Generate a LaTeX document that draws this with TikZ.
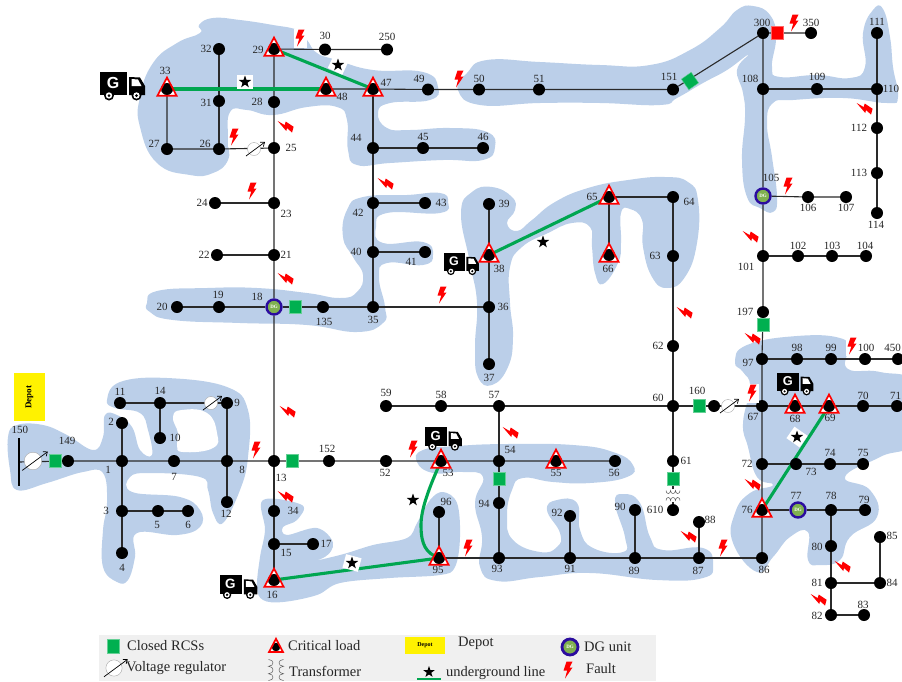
\documentclass[tikz,border=0pt]{standalone}
\usepackage{fontspec}
\setmainfont{Liberation Serif}
\setsansfont{Liberation Sans}
\usepackage{tikz}
\usetikzlibrary{positioning,arrows.meta,shapes.geometric}
\usepackage{xcolor}
\definecolor{zoneBlue}{HTML}{BBCFE9}
\definecolor{rcsGreen}{HTML}{00B050}
\definecolor{ugGreen}{HTML}{00A650}
\definecolor{dgRing}{HTML}{2B0C9E}
\definecolor{dgFill}{HTML}{7FB04F}
\definecolor{legendGray}{HTML}{F0F0F0}
\definecolor{wireGray}{HTML}{2A2A2A}
\pgfdeclarelayer{zoneLayer}
\pgfdeclarelayer{wireLayer}
\pgfsetlayers{zoneLayer,wireLayer,main}

\begin{document}
\begin{tikzpicture}[
    x=1pt, y=-1pt,
    busNode/.style={circle, fill=black, minimum size=12, inner sep=0},
    critBus/.style={circle, minimum size=12, inner sep=0},
    numLabel/.style={font=\fontsize{11}{11}\selectfont, text=black!85, inner sep=0},
    rcsBox/.style={rectangle, fill=rcsGreen, draw=rcsGreen!60!white, line width=.4, minimum width=12, minimum height=13, inner sep=0},
    dgBus/.style={circle, fill=dgFill, draw=dgRing, line width=2.4, minimum size=15, inner sep=0, text=white, font=\fontsize{5}{5}\selectfont\bfseries},
    zoneFill/.style={fill=zoneBlue},
    feederLine/.style={draw=wireGray, line width=1.1},
    ugLine/.style={draw=ugGreen, line width=3.1},
    starMark/.style={star, star points=5, star point ratio=2.5, fill=black, minimum size=13, inner sep=0},
    starBack/.style={rectangle, fill=white, minimum width=16, minimum height=14, inner sep=0},
    depotBox/.style={rectangle, fill=yellow, inner sep=0, font=\bfseries},
    legendText/.style={anchor=west, inner sep=0, font=\fontsize{14.5}{14.5}\selectfont, text=black!85},
    faultMark/.pic={\fill[red] (-1.5,-8.5) -- (4.5,-8.5) -- (1.5,-2.5) -- (4.5,-2.5) -- (-3,8.5) -- (-.8,.5) -- (-4.5,.5) -- cycle;},
    faultBgMark/.pic={\fill[white] (-6.5,-9.5) rectangle (6.5,9.5);
        \fill[red] (-1.5,-8.5) -- (4.5,-8.5) -- (1.5,-2.5) -- (4.5,-2.5) -- (-3,8.5) -- (-.8,.5) -- (-4.5,.5) -- cycle;},
    critTri/.pic={\fill[white] (-9.6,6.8) -- (0,-11.5) -- (9.6,6.8) -- cycle;
        \fill[black] (0,0) circle[radius=6pt];
        \draw[red, line width=1.7] (-9.6,6.8) -- (0,-11.5) -- (9.6,6.8) -- cycle;},
    voltReg/.pic={\fill[white] (0,0) circle[radius=6.5pt];
        \draw[black!35, line width=.4] (0,0) circle[radius=6.5pt];
        \draw[black, line width=.7, -{Straight Barb[length=3.5pt,width=5.5pt]}] (-8,7) -- (11,-7);},
    xfmrCoil/.pic={\draw[black!65, line width=.5]
        (-7,-5) .. controls (-7,-1) and (-2.5,-1) .. (-2.5,-5) .. controls (-2.5,-1) and (2.5,-1) .. (2.5,-5) .. controls (2.5,-1) and (7,-1) .. (7,-5)
        (-7,5) .. controls (-7,1) and (-2.5,1) .. (-2.5,5) .. controls (-2.5,1) and (2.5,1) .. (2.5,5) .. controls (2.5,1) and (7,1) .. (7,5);},
    genTruck/.pic={\fill[black] (-22,-13) rectangle (5,10);
        \fill[black] (7,-8) -- (18,-7.5) -- (23,1) -- (23,10) -- (7,10) -- cycle;
        \fill[white] (9.5,-6) -- (16,-5.5) -- (19.5,1) -- (9.5,1) -- cycle;
        \fill[black] (-13,10.5) circle[radius=5pt] (14.5,10.5) circle[radius=5pt];
        \fill[white] (-13,10.5) circle[radius=3.2pt] (14.5,10.5) circle[radius=3.2pt];
        \fill[black] (-13,10.5) circle[radius=1.5pt] (14.5,10.5) circle[radius=1.5pt];
        \node[transform shape, text=white, inner sep=0, font=\fontsize{16}{16}\selectfont\sffamily\bfseries] (-g) at (-9,-2.5) {G};}
]
    \useasboundingbox (0,0) rectangle (902,681);

    % restoration zones
    \begin{pgfonlayer}{zoneLayer}
    \fill[zoneFill] plot[smooth cycle, tension=.8] coordinates {(199,25) (213,18) (240,20) (273,25) (297,30) (307,40) (317,53) (337,60) (373,70) (423,72) (438,87) (430,100) (390,103) (378,113) (387,128) (410,130) (450,128) (487,132) (495,147) (483,160) (443,160) (390,163) (357,165) (348,150) (347,120) (337,107) (307,107) (273,115) (247,110) (230,112) (228,140) (228,160) (213,173) (190,175) (157,163) (140,127) (140,97) (153,63) (177,43) (200,33)};
    \fill[zoneFill] plot[smooth cycle, tension=.8] coordinates {(458,90) (467,73) (487,60) (540,62) (600,65) (650,65) (690,50) (720,28) (737,10) (753,6) (770,15) (776,37) (772,67) (780,77) (817,75) (850,78) (865,67) (863,33) (873,10) (883,9) (890,37) (893,67) (898,97) (887,103) (843,98) (793,100) (773,103) (767,123) (772,157) (777,197) (773,212) (760,208) (747,197) (742,160) (745,117) (743,93) (737,70) (748,55) (727,70) (703,83) (677,98) (660,105) (600,103) (540,103) (480,105)};
    \fill[zoneFill] plot[smooth cycle, tension=.8] coordinates {(461,213) (472,192) (492,187) (512,197) (515,210) (507,223) (517,231) (532,220) (555,202) (588,188) (628,180) (665,177) (688,182) (698,200) (697,243) (685,277) (667,288) (652,277) (643,247) (642,220) (630,209) (621,213) (621,243) (618,263) (603,284) (595,273) (592,247) (590,227) (572,223) (548,233) (522,247) (510,267) (510,303) (513,337) (508,367) (492,385) (478,377) (475,347) (477,303) (470,263)};
    \fill[zoneFill] plot[smooth cycle, tension=.8] coordinates {(147,303) (157,291) (207,288) (257,288) (307,293) (340,298) (357,292) (363,275) (353,257) (343,237) (347,210) (363,197) (407,195) (440,193) (448,202) (440,213) (387,213) (376,227) (383,243) (423,242) (433,255) (423,265) (387,263) (379,277) (385,307) (383,323) (357,332) (307,325) (240,323) (173,320) (150,312)};
    \fill[zoneFill] plot[smooth cycle, tension=.7] coordinates {(8,437) (17,425) (43,425) (67,435) (93,450) (103,437) (105,415) (117,415) (132,427) (140,450) (152,455) (148,430) (140,413) (115,408) (107,400) (120,382) (167,378) (227,387) (248,410) (248,457) (240,490) (223,523) (213,513) (208,490) (200,477) (150,473) (130,477) (132,492) (180,497) (200,510) (200,527) (177,535) (137,533) (135,557) (128,580) (117,582) (103,567) (103,530) (107,503) (103,473) (83,472) (47,483) (17,490) (10,470)};
    \fill[white] plot[smooth cycle, tension=.8] coordinates {(173,417) (182,410) (207,413) (217,433) (213,448) (183,452) (177,445) (178,433)};
    \fill[zoneFill] plot[smooth cycle, tension=.6] coordinates {(263,500) (302,505) (297,520) (283,527) (287,535) (317,528) (333,543) (323,558) (288,567) (340,555) (373,545) (407,538) (417,523) (430,500) (443,492) (457,503) (460,537) (455,567) (440,575) (390,578) (340,583) (317,595) (283,602) (263,600) (257,587) (260,557) (265,530)};
    \fill[zoneFill] plot[smooth cycle, tension=.8] coordinates {(417,462) (423,450) (457,446) (507,444) (573,445) (613,452) (633,465) (627,477) (590,483) (553,482) (523,478) (512,490) (507,517) (513,540) (540,552) (557,547) (560,533) (547,510) (557,500) (577,503) (580,530) (593,548) (623,552) (625,537) (615,503) (623,494) (640,503) (650,537) (663,550) (703,548) (713,565) (703,578) (657,580) (590,573) (540,577) (497,581) (480,567) (482,537) (475,503) (483,477) (463,472) (433,473)};
    \fill[zoneFill] plot[smooth cycle, tension=.8] coordinates {(735,362) (747,345) (797,336) (840,338) (847,350) (848,369) (880,372) (915,385) (915,440) (880,457) (845,477) (870,490) (877,517) (850,537) (840,560) (820,565) (808,560) (808,532) (790,537) (773,557) (757,572) (733,543) (735,513) (750,493) (773,485) (757,477) (748,447) (743,423) (750,387) (743,372)};
    \end{pgfonlayer}

    % buses
    \node[busNode] (b1) at (122,461) {};   \node[numLabel] (l1) at (108,470) {1};
    \node[busNode] (b2) at (122,423) {};   \node[numLabel] (l2) at (111,422) {2};
    \node[busNode] (b3) at (122,511) {};   \node[numLabel] (l3) at (106,511) {3};
    \node[busNode] (b4) at (122,553) {};   \node[numLabel] (l4) at (122,568) {4};
    \node[busNode] (b5) at (158,511) {};   \node[numLabel] (l5) at (157,525) {5};
    \node[busNode] (b6) at (188,511) {};   \node[numLabel] (l6) at (188,525) {6};
    \node[busNode] (b7) at (174,461) {};   \node[numLabel] (l7) at (174,477) {7};
    \node[busNode] (b8) at (227,461) {};   \node[numLabel] (l8) at (242,470) {8};
    \node[busNode] (b9) at (227,403) {};   \node[numLabel] (l9) at (237,403) {9};
    \node[busNode] (b10) at (160,438) {};  \node[numLabel] (l10) at (175,438) {10};
    \node[busNode] (b11) at (120,403) {};  \node[numLabel] (l11) at (120,392) {11};
    \node[busNode] (b12) at (227,502) {};  \node[numLabel] (l12) at (226,514) {12};
    \node[busNode] (b13) at (274,461) {};  \node[numLabel] (l13) at (281,478) {13};
    \node[busNode] (b14) at (160,403) {};  \node[numLabel] (l14) at (160,391) {14};
    \node[busNode] (b15) at (274,544) {};  \node[numLabel] (l15) at (286,553) {15};
    \node[critBus] (b16) at (274,580) {};  \node[numLabel] (l16) at (272,595) {16};
    \node[busNode] (b17) at (313,544) {};  \node[numLabel] (l17) at (326,544) {17};
    \node[dgBus] (b18) at (274,307) {DG};  \node[numLabel] (l18) at (257,297) {18};
    \node[busNode] (b19) at (219,307) {};  \node[numLabel] (l19) at (218,295) {19};
    \node[busNode] (b20) at (177,307) {};  \node[numLabel] (l20) at (162,307) {20};
    \node[busNode] (b21) at (274,255) {};  \node[numLabel] (l21) at (286,255) {21};
    \node[busNode] (b22) at (217,255) {};  \node[numLabel] (l22) at (204,255) {22};
    \node[busNode] (b23) at (274,203) {};  \node[numLabel] (l23) at (286,214) {23};
    \node[busNode] (b24) at (215,203) {};  \node[numLabel] (l24) at (202,203) {24};
    \node[busNode] (b25) at (274,148) {};  \node[numLabel] (l25) at (291,148) {25};
    \node[busNode] (b26) at (219,149) {};  \node[numLabel] (l26) at (205,144) {26};
    \node[busNode] (b27) at (167,149) {};  \node[numLabel] (l27) at (154,144) {27};
    \node[busNode] (b28) at (274,102) {};  \node[numLabel] (l28) at (257,102) {28};
    \node[critBus] (b29) at (274,49) {};   \node[numLabel] (l29) at (258,50) {29};
    \node[busNode] (b30) at (325,49.5) {}; \node[numLabel] (l30) at (325,36) {30};
    \node[busNode] (b31) at (219,101) {};  \node[numLabel] (l31) at (206,103) {31};
    \node[busNode] (b32) at (219,49) {};   \node[numLabel] (l32) at (206,49) {32};
    \node[critBus] (b33) at (167,89) {};   \node[numLabel] (l33) at (165,71) {33};
    \node[busNode] (b34) at (274,511) {};  \node[numLabel] (l34) at (293,511) {34};
    \node[busNode] (b35) at (373,307) {};  \node[numLabel] (l35) at (373,320) {35};
    \node[busNode] (b36) at (489,307) {};  \node[numLabel] (l36) at (503,307) {36};
    \node[busNode] (b37) at (489,364) {};  \node[numLabel] (l37) at (489,378) {37};
    \node[critBus] (b38) at (489,255) {};  \node[numLabel] (l38) at (499,269) {38};
    \node[busNode] (b39) at (489,204) {};  \node[numLabel] (l39) at (504,204) {39};
    \node[busNode] (b40) at (373,252) {};  \node[numLabel] (l40) at (356,252) {40};
    \node[busNode] (b41) at (425,252) {};  \node[numLabel] (l41) at (411,262) {41};
    \node[busNode] (b42) at (373,203) {};  \node[numLabel] (l42) at (358,213) {42};
    \node[busNode] (b43) at (425,203) {};  \node[numLabel] (l43) at (441,203) {43};
    \node[busNode] (b44) at (373,148) {};  \node[numLabel] (l44) at (356,138) {44};
    \node[busNode] (b45) at (423,148) {};  \node[numLabel] (l45) at (423,137) {45};
    \node[busNode] (b46) at (483,148) {};  \node[numLabel] (l46) at (483,137) {46};
    \node[critBus] (b47) at (373,89) {};   \node[numLabel] (l47) at (386,83) {47};
    \node[critBus] (b48) at (326,89) {};   \node[numLabel] (l48) at (342,97) {48};
    \node[busNode] (b49) at (428,89.5) {}; \node[numLabel] (l49) at (419,79) {49};
    \node[busNode] (b50) at (479,89.5) {}; \node[numLabel] (l50) at (479,79) {50};
    \node[busNode] (b51) at (539,89.5) {}; \node[numLabel] (l51) at (539,79) {51};
    \node[busNode] (b52) at (386,461) {};  \node[numLabel] (l52) at (385,473) {52};
    \node[critBus] (b53) at (441,461) {};  \node[numLabel] (l53) at (448,473) {53};
    \node[busNode] (b54) at (499,461) {};  \node[numLabel] (l54) at (510,450) {54};
    \node[critBus] (b55) at (556,461) {};  \node[numLabel] (l55) at (556,473) {55};
    \node[busNode] (b56) at (615,461) {};  \node[numLabel] (l56) at (614,473) {56};
    \node[busNode] (b57) at (499,406) {};  \node[numLabel] (l57) at (494,395) {57};
    \node[busNode] (b58) at (441,406) {};  \node[numLabel] (l58) at (441,395) {58};
    \node[busNode] (b59) at (386,406) {};  \node[numLabel] (l59) at (386,393) {59};
    \node[busNode] (b60) at (673,406) {};  \node[numLabel] (l60) at (658,398) {60};
    \node[busNode] (b61) at (673,461) {};  \node[numLabel] (l61) at (686,461) {61};
    \node[busNode] (b62) at (673,346) {};  \node[numLabel] (l62) at (658,346) {62};
    \node[busNode] (b63) at (673,256) {};  \node[numLabel] (l63) at (655,256) {63};
    \node[busNode] (b64) at (673,197) {};  \node[numLabel] (l64) at (689,202) {64};
    \node[critBus] (b65) at (609,197) {};  \node[numLabel] (l65) at (592,197) {65};
    \node[critBus] (b66) at (609,255) {};  \node[numLabel] (l66) at (608,269) {66};
    \node[busNode] (b67) at (762,406) {};  \node[numLabel] (l67) at (753,417) {67};
    \node[critBus] (b68) at (795,406) {};  \node[numLabel] (l68) at (795,419) {68};
    \node[critBus] (b69) at (829,406) {};  \node[numLabel] (l69) at (830,418) {69};
    \node[busNode] (b70) at (863,406) {};  \node[numLabel] (l70) at (863,396) {70};
    \node[busNode] (b71) at (897,406) {};  \node[numLabel] (l71) at (895.5,396) {71};
    \node[busNode] (b72) at (762,464) {};  \node[numLabel] (l72) at (747,464) {72};
    \node[busNode] (b73) at (796,464) {};  \node[numLabel] (l73) at (811,472) {73};
    \node[busNode] (b74) at (830,464) {};  \node[numLabel] (l74) at (830,453) {74};
    \node[busNode] (b75) at (863,464) {};  \node[numLabel] (l75) at (863,453) {75};
    \node[critBus] (b76) at (762,510) {};  \node[numLabel] (l76) at (747,510) {76};
    \node[dgBus] (b77) at (798,510) {DG};  \node[numLabel] (l77) at (796,496) {77};
    \node[busNode] (b78) at (831,510) {};  \node[numLabel] (l78) at (831,496) {78};
    \node[busNode] (b79) at (865,510) {};  \node[numLabel] (l79) at (864,500) {79};
    \node[busNode] (b80) at (831,546) {};  \node[numLabel] (l80) at (817,547) {80};
    \node[busNode] (b81) at (831,583) {};  \node[numLabel] (l81) at (817,583) {81};
    \node[busNode] (b82) at (831,615) {};  \node[numLabel] (l82) at (817,616) {82};
    \node[busNode] (b83) at (864,615) {};  \node[numLabel] (l83) at (863,605) {83};
    \node[busNode] (b84) at (880,583) {};  \node[numLabel] (l84) at (892,583) {84};
    \node[busNode] (b85) at (880,537) {};  \node[numLabel] (l85) at (892,536) {85};
    \node[busNode] (b86) at (762,558) {};  \node[numLabel] (l86) at (764,570) {86};
    \node[busNode] (b87) at (699,558) {};  \node[numLabel] (l87) at (698,571) {87};
    \node[busNode] (b88) at (699,522) {};  \node[numLabel] (l88) at (710,520) {88};
    \node[busNode] (b89) at (635,558) {};  \node[numLabel] (l89) at (634,571) {89};
    \node[busNode] (b90) at (635,510) {};  \node[numLabel] (l90) at (620,507) {90};
    \node[busNode] (b91) at (570,558) {};  \node[numLabel] (l91) at (570,569) {91};
    \node[busNode] (b92) at (570,516) {};  \node[numLabel] (l92) at (557,513) {92};
    \node[busNode] (b93) at (499,558) {};  \node[numLabel] (l93) at (497,569) {93};
    \node[busNode] (b94) at (499,503) {};  \node[numLabel] (l94) at (484,504) {94};
    \node[critBus] (b95) at (439,558) {};  \node[numLabel] (l95) at (438,570) {95};
    \node[busNode] (b96) at (439,512) {};  \node[numLabel] (l96) at (446,502) {96};
    \node[busNode] (b97) at (762,359) {};  \node[numLabel] (l97) at (748,363) {97};
    \node[busNode] (b98) at (797,359) {};  \node[numLabel] (l98) at (797,348) {98};
    \node[busNode] (b99) at (831,359) {};  \node[numLabel] (l99) at (831,348) {99};
    \node[busNode] (b100) at (865,359) {};
    \node[busNode] (b101) at (763,256) {}; \node[numLabel] (l101) at (746,267) {101};
    \node[busNode] (b102) at (798,256) {}; \node[numLabel] (l102) at (798,246) {102};
    \node[busNode] (b103) at (832,256) {}; \node[numLabel] (l103) at (832,246) {103};
    \node[busNode] (b104) at (866,256) {}; \node[numLabel] (l104) at (865,246) {104};
    \node[dgBus] (b105) at (763,196) {DG}; \node[numLabel] (l105) at (771,178) {105};
    \node[busNode] (b106) at (808,197) {}; \node[numLabel] (l106) at (808,208) {106};
    \node[busNode] (b107) at (846,197) {}; \node[numLabel] (l107) at (846,208) {107};
    \node[busNode] (b108) at (763,89) {};  \node[numLabel] (l108) at (750,79) {108};
    \node[busNode] (b109) at (817,89) {};  \node[numLabel] (l109) at (817,77) {109};
    \node[busNode] (b110) at (877,89) {};  \node[numLabel] (l110) at (891,89) {110};
    \node[busNode] (b111) at (877,33) {};  \node[numLabel] (l111) at (877,22) {111};
    \node[busNode] (b112) at (877,128) {}; \node[numLabel] (l112) at (859,128) {112};
    \node[busNode] (b113) at (877,173) {}; \node[numLabel] (l113) at (859,173) {113};
    \node[busNode] (b114) at (877,213) {}; \node[numLabel] (l114) at (876,225) {114};
    \node[busNode] (b135) at (323,307) {}; \node[numLabel] (l135) at (324,322) {135};
    \node[busNode] (b149) at (68,461) {};  \node[numLabel] (l149) at (67,441) {149};
    \node[rectangle, fill=black, minimum width=2, minimum height=48, inner sep=0] (b150) at (19,462) {};
    \node[numLabel] (l150) at (20,430) {150};
    \node[busNode] (b151) at (673,89.5) {}; \node[numLabel] (l151) at (669,77) {151};
    \node[busNode] (b152) at (329,461) {}; \node[numLabel] (l152) at (327,449) {152};
    \node[busNode] (b160) at (714,406) {}; \node[numLabel] (l160) at (697,391) {160};
    \node[busNode] (b197) at (763,312) {}; \node[numLabel] (l197) at (745,312) {197};
    \node[busNode] (b250) at (387,49.5) {}; \node[numLabel] (l250) at (387,37) {250};
    \node[busNode] (b300) at (763,33) {};  \node[numLabel] (l300) at (762,23) {300};
    \node[busNode] (b350) at (811,33) {};  \node[numLabel] (l350) at (811,23) {350};
    \node[busNode] (b450) at (898,359) {}; \node[numLabel] (l450) at (892.5,348) {450};
    \node[busNode] (b610) at (673,510) {}; \node[numLabel] (l610) at (655,510) {610};

    % feeders
    \begin{pgfonlayer}{wireLayer}
    \draw[feederLine] (b150) -- (b149) -- (b1) -- (b7) -- (b8) -- (b13) -- (b152) -- (b52) -- (b53) -- (b54) -- (b55) -- (b56);
    \draw[feederLine] (b2) -- (b1) -- (b3) -- (b4);
    \draw[feederLine] (b3) -- (b5) -- (b6);
    \draw[feederLine] (b12) -- (b8) -- (b9) -- (b14) -- (b11);
    \draw[feederLine] (b14) -- (b10);
    \draw[feederLine] (b13) -- (b18) -- (b21) -- (b23) -- (b25) -- (b28) -- (b29) -- (b30) -- (b250);
    \draw[feederLine] (b13) -- (b34) -- (b15) -- (b16);
    \draw[feederLine] (b15) -- (b17);
    \draw[feederLine] (b20) -- (b19) -- (b18) -- (b135) -- (b35) -- (b36);
    \draw[feederLine] (b22) -- (b21);
    \draw[feederLine] (b24) -- (b23);
    \draw[feederLine] (b33) -- (b27) -- (b26) -- (b25);
    \draw[feederLine] (b26) -- (b31) -- (b32);
    \draw[feederLine] (b48) -- (b47) -- (b49) -- (b50) -- (b51) -- (b151) -- (b300) -- (b350);
    \draw[feederLine] (b47) -- (b44) -- (b42) -- (b40) -- (b35);
    \draw[feederLine] (b44) -- (b45) -- (b46);
    \draw[feederLine] (b42) -- (b43);
    \draw[feederLine] (b40) -- (b41);
    \draw[feederLine] (b39) -- (b38) -- (b36) -- (b37);
    \draw[feederLine] (b66) -- (b65) -- (b64) -- (b63) -- (b62) -- (b60) -- (b61) -- (b610);
    \draw[feederLine] (b59) -- (b58) -- (b57) -- (b60) -- (b160) -- (b67);
    \draw[feederLine] (b57) -- (b54) -- (b94) -- (b93);
    \draw[feederLine] (b96) -- (b95) -- (b93) -- (b91) -- (b89) -- (b87) -- (b86);
    \draw[feederLine] (b92) -- (b91);
    \draw[feederLine] (b90) -- (b89);
    \draw[feederLine] (b88) -- (b87);
    \draw[feederLine] (b86) -- (b76) -- (b72) -- (b67) -- (b97) -- (b197) -- (b101) -- (b105) -- (b108) -- (b300);
    \draw[feederLine] (b108) -- (b109) -- (b110) -- (b111);
    \draw[feederLine] (b110) -- (b112) -- (b113) -- (b114);
    \draw[feederLine] (b105) -- (b106) -- (b107);
    \draw[feederLine] (b101) -- (b102) -- (b103) -- (b104);
    \draw[feederLine] (b67) -- (b68) -- (b69) -- (b70) -- (b71);
    \draw[feederLine] (b97) -- (b98) -- (b99) -- (b100) -- (b450);
    \draw[feederLine] (b72) -- (b73) -- (b74) -- (b75);
    \draw[feederLine] (b76) -- (b77) -- (b78) -- (b79);
    \draw[feederLine] (b78) -- (b80) -- (b81) -- (b82) -- (b83);
    \draw[feederLine] (b81) -- (b84) -- (b85);

    % underground lines
    \draw[ugLine] (b33.center) -- (b48.center);
    \draw[ugLine] (b29.center) -- (b47.center);
    \draw[ugLine] (b16.center) -- (b95.center);
    \draw[ugLine] (b53.center) .. controls (428,490) and (421,510) .. (421,525) .. controls (421,545) and (426,553) .. (b95.center);
    \draw[ugLine] (b38.center) -- (b65.center);
    \draw[ugLine] (b69.center) -- (b76.center);
    \end{pgfonlayer}

    % critical loads
    \pic at (b16) {critTri};
    \pic at (b29) {critTri};
    \pic at (b33) {critTri};
    \pic at (b38) {critTri};
    \pic at (b47) {critTri};
    \pic at (b48) {critTri};
    \pic at (b53) {critTri};
    \pic at (b55) {critTri};
    \pic at (b65) {critTri};
    \pic at (b66) {critTri};
    \pic at (b68) {critTri};
    \pic at (b69) {critTri};
    \pic at (b76) {critTri};
    \pic at (b95) {critTri};

    % switches
    \node[rcsBox] (rcs1) at (55,461) {};
    \node[rcsBox] (rcs2) at (292,461) {};
    \node[rcsBox] (rcs3) at (295,307) {};
    \node[rcsBox] (rcs4) at (499,479) {};
    \node[rcsBox] (rcs5) at (673,479) {};
    \node[rcsBox] (rcs6) at (699,406) {};
    \node[rcsBox] (rcs7) at (763,325) {};
    \node[rcsBox, rotate=35] (rcs8) at (690,81) {};
    \node[rcsBox, fill=red, draw=red!60!white] (rcs9) at (777,33) {};

    % regulators and transformer
    \pic[scale=1.35] at (33,461) {voltReg};
    \pic at (254,149) {voltReg};
    \pic at (211,403) {voltReg};
    \pic at (728,406) {voltReg};
    \fill[white] (664,489) rectangle (682,502);
    \pic at (673,495.5) {xfmrCoil};

    % generator trucks
    \pic (truckA) at (122,85) {genTruck};
    \pic[scale=.84] (truckB) at (238,586) {genTruck};
    \pic[scale=.82] (truckC) at (443,438) {genTruck};
    \pic[scale=.78] (truckD) at (461,263) {genTruck};
    \pic[scale=.8] (truckE) at (795,383) {genTruck};

    % depot
    \node[depotBox, minimum width=31, minimum height=48, font=\fontsize{9}{9}\selectfont\bfseries] (depotTop) at (29.5,397) {\rotatebox{90}{Depot}};

    % underground markers
    \node[starBack] (ugA) at (245,82) {};
    \node[starMark] (ugAs) at (ugA) {};
    \node[starBack, rotate=-25] (ugB) at (338,65) {};
    \node[starMark] (ugBs) at (ugB) {};
    \node[starMark] (ugC) at (413,500) {};
    \node[starBack, rotate=-15] (ugD) at (352,563) {};
    \node[starMark] (ugDs) at (ugD) {};
    \node[starMark] (ugE) at (543,242) {};
    \node[starBack, rotate=-35] (ugF) at (797,437) {};
    \node[starMark] (ugFs) at (ugF) {};

    % faults
    \pic at (300,38) {faultBgMark};
    \pic at (459,79) {faultMark};
    \pic at (234,137) {faultBgMark};
    \pic at (252,191) {faultMark};
    \pic at (442,295) {faultMark};
    \pic at (256,450) {faultMark};
    \pic at (413,449) {faultMark};
    \pic at (468,548) {faultMark};
    \pic at (723,548) {faultMark};
    \pic at (794,23) {faultMark};
    \pic at (788,186) {faultMark};
    \pic at (752,393) {faultBgMark};
    \pic at (852,346) {faultBgMark};
    \pic[rotate=-105] at (285,126) {faultMark};
    \pic[rotate=-105] at (385,183) {faultMark};
    \pic[rotate=-105] at (285,278) {faultMark};
    \pic[rotate=-105] at (287,411) {faultMark};
    \pic[rotate=-105] at (285,496) {faultMark};
    \pic[rotate=-105] at (510,432) {faultMark};
    \pic[rotate=-105] at (684,312) {faultMark};
    \pic[rotate=-105] at (750,236) {faultMark};
    \pic[rotate=-105] at (864,108) {faultMark};
    \pic[rotate=-105] at (752,338) {faultMark};
    \pic[rotate=-105] at (752,484) {faultMark};
    \pic[rotate=-105] at (688,536) {faultMark};
    \pic[rotate=-105] at (842,566) {faultMark};
    \pic[rotate=-105] at (818,599) {faultMark};
    \node[numLabel] (l100) at (866,348) {100};

    % legend
    \fill[legendGray] (99,635) rectangle (656,681);
    \node[rcsBox, minimum height=14] (keyRcs) at (113,646) {};
    \node[legendText] (keyRcsT) at (127,646) {Closed RCSs};
    \pic[scale=1.25] at (114,668) {voltReg};
    \node[legendText] (keyRegT) at (126,668) {Voltage regulator};
    \pic[scale=.72] at (276,647) {critTri};
    \node[legendText] (keyCritT) at (288,646) {Critical load};
    \pic[rotate=90, scale=1.5] at (276,670) {xfmrCoil};
    \node[legendText] (keyCoilT) at (289,671) {Transformer};
    \node[depotBox, minimum width=40, minimum height=17, font=\fontsize{6}{6}\selectfont\bfseries] (keyDepot) at (425,645.5) {Depot};
    \node[legendText] (keyDepotT) at (458,643) {Depot};
    \node[dgBus, minimum size=16, line width=2.8] (keyDg) at (570,647) {DG};
    \node[legendText] (keyDgT) at (584,647) {DG unit};
    \draw[draw=ugGreen, line width=1.2] (417,679) -- (441,679);
    \node[starMark, minimum size=12] (keyStar) at (429,672) {};
    \node[legendText] (keyUgT) at (446,673) {underground line};
    \pic at (568,670) {faultMark};
    \node[legendText] (keyFaultT) at (586,669) {Fault};
\end{tikzpicture}
\end{document}
